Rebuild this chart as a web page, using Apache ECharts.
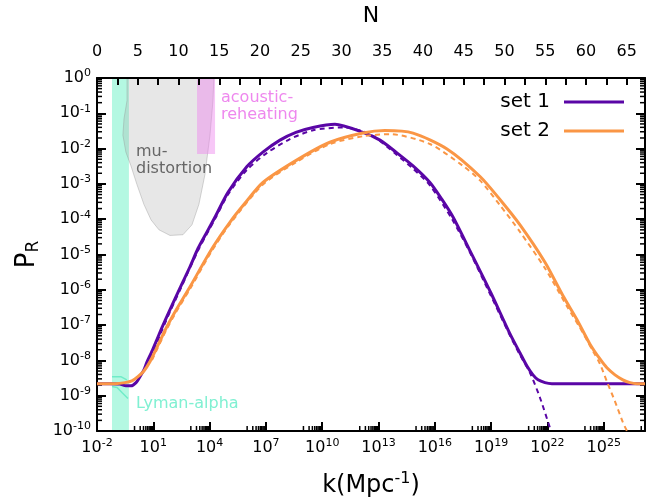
<!DOCTYPE html>
<html>
<head>
<meta charset="utf-8">
<script src="https://cdn.jsdelivr.net/npm/echarts@6/dist/echarts.min.js"></script>
<style>
  html, body { margin: 0; padding: 0; background: #fff; }
  #chart { width: 670px; height: 503px; }
</style>
</head>
<body>
<div id="chart"></div>
<script>
const FONT = 'DejaVu Sans';

// axis ranges, in log10(k) and log10(P)
const kMin = -2, kMax = 27.2;
const pMin = -10, pMax = 0;

// set 1 (solid) : log10 k , log10 P_R
const set1K = [-2.00, -1.31, -0.78, -0.46, -0.19, 0.08, 0.29, 0.50, 0.66, 0.93, 1.20, 1.46, 1.89, 2.42, 2.96, 3.38, 3.86, 4.29, 4.98, 5.99, 6.84, 7.75, 8.60, 9.51, 10.68, 12.17, 13.08, 13.98, 14.84, 15.74, 16.38, 16.97, 17.87, 18.99, 20.00, 20.54, 20.91, 21.23, 21.50, 21.87, 22.24, 27.20];
const set1P = [-8.66, -8.66, -8.67, -8.72, -8.72, -8.63, -8.46, -8.27, -8.05, -7.74, -7.40, -7.07, -6.56, -5.95, -5.34, -4.83, -4.36, -3.94, -3.24, -2.51, -2.10, -1.76, -1.54, -1.40, -1.31, -1.54, -1.76, -2.12, -2.49, -2.96, -3.44, -3.94, -4.89, -6.09, -7.24, -7.79, -8.16, -8.41, -8.55, -8.63, -8.66, -8.66];

// set 1 (dashed)
const set1DashK = [0.82, 1.20, 1.46, 1.89, 2.42, 3.38, 4.29, 4.98, 5.99, 7.06, 8.28, 9.51, 11.11, 12.55, 13.98, 14.84, 15.74, 16.91, 17.87, 18.99, 20.00, 20.54, 21.07, 21.60, 22.19];
const set1DashP = [-7.93, -7.49, -7.15, -6.62, -6.01, -4.89, -3.99, -3.30, -2.60, -2.12, -1.73, -1.48, -1.40, -1.59, -2.18, -2.57, -3.04, -3.99, -4.94, -6.17, -7.29, -7.85, -8.35, -9.05, -10.0];

// set 2 (solid)
const set2K = [-2.00, -1.04, -0.51, -0.14, 0.18, 0.50, 0.82, 1.25, 1.68, 2.16, 2.95, 4.13, 5.09, 5.88, 6.84, 8.66, 10.41, 12.17, 13.34, 14.84, 16.65, 18.41, 19.47, 20.54, 21.87, 22.83, 23.57, 24.27, 24.80, 25.17, 25.60, 26.02, 26.40, 26.77, 27.20];
const set2P = [-8.66, -8.66, -8.63, -8.58, -8.46, -8.30, -8.04, -7.57, -7.09, -6.62, -5.92, -4.83, -4.08, -3.55, -2.96, -2.32, -1.82, -1.56, -1.49, -1.56, -2.01, -2.79, -3.44, -4.16, -5.22, -6.17, -6.84, -7.54, -7.96, -8.21, -8.41, -8.55, -8.63, -8.66, -8.66];

// set 2 (dashed)
const set2DashK = [0.93, 1.25, 1.68, 2.16, 2.95, 4.13, 5.09, 6.84, 8.66, 10.41, 12.17, 13.61, 15.74, 17.50, 18.41, 19.47, 20.54, 21.87, 23.09, 23.73, 24.43, 24.80, 25.17, 25.60, 26.02, 26.24];
const set2DashP = [-7.99, -7.63, -7.15, -6.68, -5.98, -4.89, -4.13, -3.02, -2.37, -1.87, -1.65, -1.59, -1.87, -2.49, -2.90, -3.60, -4.36, -5.39, -6.51, -7.07, -7.74, -8.10, -8.60, -9.16, -9.75, -10.0];

// constraint regions
const lyaBandK = [-1.20, -0.30];
const lyaUpperK = [-1.20, -0.73, -0.41];
const lyaUpperP = [-8.46, -8.46, -8.55];
const lyaLowerK = [-1.20, -0.93, -0.67, -0.35];
const lyaLowerP = [-8.74, -8.77, -8.91, -9.08];
const muK = [-0.40, -0.40, -0.56, -0.62, -0.46, -0.19, 0.13, 0.50, 0.88, 1.30, 1.89, 2.58, 3.06, 3.43, 3.75, 4.02, 4.18, 4.23];
const muP = [0.00, -0.64, -1.15, -1.62, -2.10, -2.49, -3.02, -3.58, -4.02, -4.30, -4.46, -4.44, -4.16, -3.58, -2.74, -1.62, -0.64, 0.00];
const reheatK = [3.33, 4.29];
const reheatPLow = -2.15;

const purple = '#5a06a6';
const orange = '#fa9645';

const pairs = (xs, ys) => xs.map((x, i) => [x, ys[i]]);

// gnuplot style minor ticks (log spaced)
const minorK = [];
for (let m = kMin; m <= kMax + 3; m += 3) {
  for (let j = 1; j <= 9; j++) {
    const v = m - 1 + Math.log10(j);
    if (v > kMin + 1e-6 && v < kMax) minorK.push(v);
  }
}
const minorP = [];
for (let n = pMin; n < pMax; n++) {
  for (let j = 2; j <= 9; j++) minorP.push(n + Math.log10(j));
}

const supRich = {
  b: { fontFamily: FONT, fontSize: 16, lineHeight: 20, color: '#000' },
  s: { fontFamily: FONT, fontSize: 11, lineHeight: 11, verticalAlign: 'top', color: '#000' }
};
const powLabel = v => {
  const r = Math.round(v);
  return Math.abs(v - r) < 1e-6 ? '{b|10}{s|' + r + '}' : '';
};

const polygonItem = (ks, ps, fill, stroke) => (params, api) => ({
  type: 'polygon',
  shape: { points: ks.map((k, i) => api.coord([k, ps[i]])) },
  style: { fill: fill, stroke: stroke || null, lineWidth: stroke ? 0.8 : 0 }
});

const frameLine = { onZero: false, lineStyle: { color: '#000', width: 2 } };

const chart = echarts.init(document.getElementById('chart'));

const option = {
  animation: false,
  backgroundColor: '#fff',
  grid: { left: 97, right: 25, top: 77, bottom: 68, containLabel: false },
  legend: {
    data: [{ name: 'set 1', icon: 'rect' }, { name: 'set 2', icon: 'rect' }],
    orient: 'vertical',
    align: 'right',
    right: 46,
    top: 92,
    padding: 0,
    itemWidth: 60,
    itemHeight: 3,
    itemGap: 9,
    selectedMode: false,
    textStyle: { fontFamily: FONT, fontSize: 20, lineHeight: 20, color: '#000', padding: [0, 9, 0, 0] }
  },
  xAxis: [
    {
      type: 'value', position: 'bottom', min: kMin, max: kMax, interval: 3, z: 4,
      axisLine: frameLine,
      axisTick: { inside: true, length: 9, lineStyle: { color: '#000', width: 2 } },
      splitLine: { show: false },
      axisLabel: { margin: 7, formatter: powLabel, rich: supRich, showMaxLabel: false },
      name: '{b|k(Mpc}{s|-1}{b|)}',
      nameLocation: 'middle',
      nameGap: 40,
      nameTextStyle: {
        rich: {
          b: { fontFamily: FONT, fontSize: 24, lineHeight: 30, color: '#000' },
          s: { fontFamily: FONT, fontSize: 16, lineHeight: 16, verticalAlign: 'top', color: '#000' }
        }
      }
    },
    {
      type: 'value', position: 'top', min: 0, max: (kMax - kMin) * Math.LN10, interval: 5, z: 4,
      axisLine: frameLine,
      axisTick: { inside: true, length: 7, lineStyle: { color: '#000', width: 2 } },
      minorTick: { show: true, splitNumber: 2, length: 7, lineStyle: { color: '#000', width: 2 } },
      splitLine: { show: false },
      axisLabel: { margin: 18, fontFamily: FONT, fontSize: 16, color: '#000', showMaxLabel: false },
      name: 'N',
      nameLocation: 'middle',
      nameGap: 51,
      nameTextStyle: { fontFamily: FONT, fontSize: 22, color: '#000' }
    }
  ],
  yAxis: [
    {
      type: 'value', position: 'left', min: pMin, max: pMax, interval: 1, z: 4,
      axisLine: frameLine,
      axisTick: { inside: true, length: 9, lineStyle: { color: '#000', width: 2 } },
      splitLine: { show: false },
      axisLabel: { margin: 6, formatter: powLabel, rich: supRich },
      name: '{p|P}{r|R}',
      nameLocation: 'middle',
      nameRotate: 90,
      nameGap: 52,
      nameTextStyle: {
        rich: {
          p: { fontFamily: FONT, fontSize: 26, lineHeight: 30, color: '#000' },
          r: { fontFamily: FONT, fontSize: 17, lineHeight: 12, verticalAlign: 'bottom', color: '#000' }
        }
      }
    },
    {
      type: 'value', position: 'right', min: pMin, max: pMax, interval: 1, z: 4,
      axisLine: frameLine,
      axisTick: { inside: true, length: 9, lineStyle: { color: '#000', width: 2 } },
      splitLine: { show: false },
      axisLabel: { show: false }
    }
  ],
  graphic: [
    { type: 'text', left: 136, top: 143, z: 10, style: { text: 'mu-\ndistortion', font: '16px ' + FONT, fill: '#666666', lineHeight: 17 } },
    { type: 'text', left: 221, top: 89, z: 10, style: { text: 'acoustic-\nreheating', font: '16px ' + FONT, fill: '#ee88ee', lineHeight: 17 } },
    { type: 'text', left: 136, top: 396, z: 10, style: { text: 'Lyman-alpha', font: '16px ' + FONT, fill: '#80f0d2' } }
  ],
  series: [
    {
      type: 'custom', name: 'lya band', z: 1, silent: true,
      data: [[lyaBandK[0], pMin]],
      renderItem: polygonItem(
        [lyaBandK[0], lyaBandK[1], lyaBandK[1], lyaBandK[0]],
        [pMax, pMax, pMin, pMin], '#b4f8e2')
    },
    {
      type: 'custom', name: 'mu', z: 1, silent: true,
      data: [[muK[0], muP[0]]],
      renderItem: polygonItem(muK, muP, 'rgba(160,160,160,0.25)', 'rgba(150,150,150,0.5)')
    },
    {
      type: 'custom', name: 'reheat', z: 1, silent: true,
      data: [[reheatK[0], reheatPLow]],
      renderItem: polygonItem(
        [reheatK[0], reheatK[1], reheatK[1], reheatK[0]],
        [pMax, pMax, reheatPLow, reheatPLow], 'rgba(238,130,238,0.45)')
    },
    {
      type: 'line', name: 'lya upper', z: 2, silent: true, symbol: 'none',
      data: pairs(lyaUpperK, lyaUpperP),
      lineStyle: { color: '#70ecc8', width: 1.5 }
    },
    {
      type: 'line', name: 'lya lower', z: 2, silent: true, symbol: 'none',
      data: pairs(lyaLowerK, lyaLowerP),
      lineStyle: { color: '#70ecc8', width: 1.5 }
    },
    {
      type: 'custom', name: 'minor ticks', z: 4, silent: true,
      data: [[kMin, pMin]],
      renderItem: (params, api) => {
        const children = [];
        const seg = (x1, y1, x2, y2) => children.push({
          type: 'line', shape: { x1: x1, y1: y1, x2: x2, y2: y2 },
          style: { stroke: '#000', lineWidth: 1.5 }
        });
        minorK.forEach(v => { const p = api.coord([v, pMin]); seg(p[0], p[1], p[0], p[1] - 5); });
        minorP.forEach(v => {
          const a = api.coord([kMin, v]); seg(a[0], a[1], a[0] + 5, a[1]);
          const b = api.coord([kMax, v]); seg(b[0], b[1], b[0] - 5, b[1]);
        });
        return { type: 'group', children: children };
      }
    },
    {
      type: 'line', name: 'set 1', z: 5, symbol: 'none', smooth: 0.25,
      color: purple, data: pairs(set1K, set1P),
      lineStyle: { color: purple, width: 3 }
    },
    {
      type: 'line', name: 'set 1 dashed', z: 5, symbol: 'none', smooth: 0.25,
      color: purple, data: pairs(set1DashK, set1DashP),
      lineStyle: { color: purple, width: 2, type: [5, 4] }
    },
    {
      type: 'line', name: 'set 2', z: 5, symbol: 'none', smooth: 0.25,
      color: orange, data: pairs(set2K, set2P),
      lineStyle: { color: orange, width: 3 }
    },
    {
      type: 'line', name: 'set 2 dashed', z: 5, symbol: 'none', smooth: 0.25,
      color: orange, data: pairs(set2DashK, set2DashP),
      lineStyle: { color: orange, width: 2, type: [5, 4] }
    }
  ]
};

chart.setOption(option);
</script>
</body>
</html>
